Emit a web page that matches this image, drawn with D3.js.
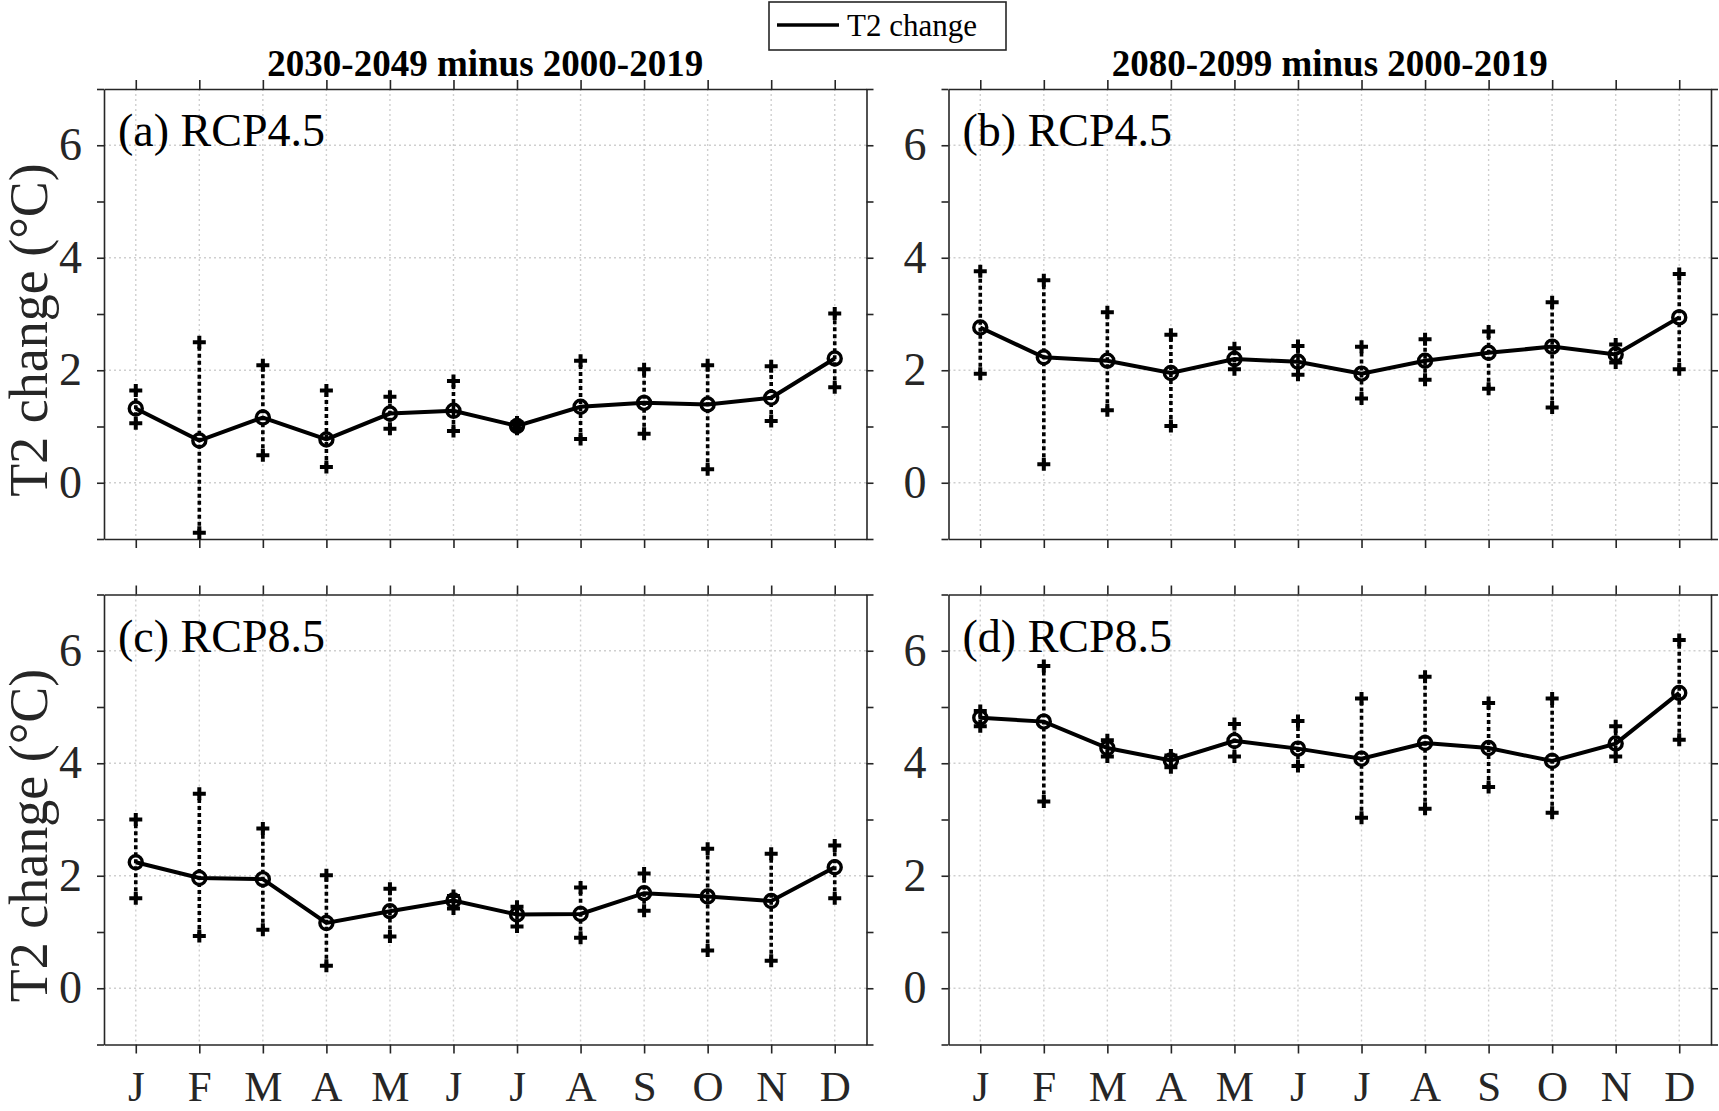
<!DOCTYPE html>
<html>
<head>
<meta charset="utf-8">
<script src="https://cdn.jsdelivr.net/npm/d3@7"></script>
<style>
  body { margin: 0; background: #fff; }
  svg { display: block; }
  svg, svg text { font-family: 'Liberation Serif', 'Times New Roman', serif; }
  .tick text { fill: #262626; }
  .domain, .tick line { stroke: #262626; stroke-width: 1.6; }
</style>
</head>
<body>
<svg width="1719" height="1111"></svg>
<script>
(function (d3) {
  'use strict';

  // month tick labels
  const monthLabels = ['J', 'F', 'M', 'A', 'M', 'J', 'J', 'A', 'S', 'O', 'N', 'D'];
  const months = d3.range(1, 13);

  // (a) RCP4.5, 2030-2049
  const meanA  = [1.32, 0.75, 1.16, 0.77, 1.23, 1.28, 1.01, 1.35, 1.42, 1.39, 1.51, 2.21];
  const upperA = [1.64, 2.50, 2.09, 1.64, 1.53, 1.81, 1.07, 2.17, 2.02, 2.09, 2.07, 3.01];
  const lowerA = [1.06, -0.89, 0.49, 0.28, 0.96, 0.92, 0.96, 0.78, 0.87, 0.24, 1.10, 1.70];

  // (b) RCP4.5, 2080-2099
  const meanB  = [2.76, 2.23, 2.17, 1.95, 2.20, 2.15, 1.94, 2.17, 2.31, 2.42, 2.28, 2.94];
  const upperB = [3.76, 3.60, 3.03, 2.63, 2.39, 2.43, 2.42, 2.55, 2.69, 3.21, 2.46, 3.71];
  const lowerB = [1.94, 0.33, 1.29, 1.01, 2.02, 1.92, 1.50, 1.83, 1.67, 1.34, 2.14, 2.02];

  // (c) RCP8.5, 2030-2049
  const meanC  = [2.24, 1.96, 1.94, 1.16, 1.37, 1.56, 1.31, 1.32, 1.69, 1.63, 1.55, 2.15];
  const upperC = [3.00, 3.46, 2.84, 2.01, 1.77, 1.64, 1.45, 1.79, 2.04, 2.48, 2.39, 2.54];
  const lowerC = [1.60, 0.93, 1.04, 0.40, 0.92, 1.42, 1.10, 0.90, 1.38, 0.67, 0.49, 1.60];

  // (d) RCP8.5, 2080-2099
  const meanD  = [4.81, 4.74, 4.27, 4.05, 4.40, 4.26, 4.08, 4.36, 4.27, 4.04, 4.35, 5.25];
  const upperD = [4.93, 5.73, 4.41, 4.14, 4.70, 4.75, 5.15, 5.54, 5.07, 5.15, 4.66, 6.19];
  const lowerD = [4.66, 3.32, 4.12, 3.93, 4.12, 3.95, 3.03, 3.19, 3.58, 3.12, 4.12, 4.42];

  const yTicks = d3.range(-1, 8);
  const yLabelTicks = [0, 2, 4, 6];
  const columnTitles = ['2030-2049 minus 2000-2019', '2080-2099 minus 2000-2019'];
  const yAxisLabel = 'T2 change (°C)';
  const legendLabel = 'T2 change';

  const svg = d3.select('svg');

  const panelWidth = 762.5;
  const panelHeight = 450;
  const colX = [104, 948.5];
  const rowY = [89, 594.5];

  const panel = (selection, props) => {
    const { label, mean, upper, lower, showMonths } = props;

    const xScale = d3.scaleLinear().domain([0.5, 12.5]).range([0, panelWidth]);
    const yScale = d3.scaleLinear().domain([-1, 7]).range([panelHeight, 0]);

    // dotted grid
    const grid = selection.append('g')
      .attr('stroke', '#cfcfcf')
      .attr('stroke-width', 1.4)
      .attr('stroke-dasharray', '2,3');
    grid.selectAll('.vgrid').data(months).enter().append('line')
        .attr('x1', d => xScale(d)).attr('x2', d => xScale(d))
        .attr('y1', 0).attr('y2', panelHeight);
    grid.selectAll('.hgrid').data(yLabelTicks).enter().append('line')
        .attr('x1', 0).attr('x2', panelWidth)
        .attr('y1', d => yScale(d)).attr('y2', d => yScale(d));

    // axes (ticks outward on all four sides)
    const fmtMonth = d => showMonths ? monthLabels[d - 1] : '';
    selection.append('g')
        .attr('transform', `translate(0,${panelHeight})`)
        .call(d3.axisBottom(xScale).tickValues(months).tickFormat(fmtMonth)
          .tickSize(9).tickSizeOuter(0).tickPadding(17))
        .attr('font-family', null)
        .attr('font-size', 43);
    selection.append('g')
        .call(d3.axisTop(xScale).tickValues(months).tickFormat('')
          .tickSize(9).tickSizeOuter(0));
    selection.append('g')
        .call(d3.axisLeft(yScale).tickValues(yTicks)
          .tickFormat(d => yLabelTicks.includes(d) ? d : '')
          .tickSize(7).tickSizeOuter(0).tickPadding(15))
        .attr('font-family', null)
        .attr('font-size', 46);
    selection.append('g')
        .attr('transform', `translate(${panelWidth},0)`)
        .call(d3.axisRight(yScale).tickValues(yTicks).tickFormat('')
          .tickSize(7).tickSizeOuter(0));

    const rows = months.map((m, i) => ({ m, mean: mean[i], upper: upper[i], lower: lower[i] }));

    // dotted spread bars
    selection.append('g').selectAll('line').data(rows).enter().append('line')
        .attr('x1', d => xScale(d.m)).attr('x2', d => xScale(d.m))
        .attr('y1', d => yScale(d.lower)).attr('y2', d => yScale(d.upper))
        .attr('stroke', '#000')
        .attr('stroke-width', 3.6)
        .attr('stroke-dasharray', '4,3');

    // plus markers at range ends
    const plusPath = 'M-6.5,0H6.5M0,-6.5V6.5';
    const ends = rows.flatMap(d => [{ m: d.m, v: d.upper }, { m: d.m, v: d.lower }]);
    selection.append('g').selectAll('path').data(ends).enter().append('path')
        .attr('d', plusPath)
        .attr('transform', d => `translate(${xScale(d.m)},${yScale(d.v)})`)
        .attr('stroke', '#000')
        .attr('stroke-width', 4)
        .attr('fill', 'none');

    // mean line
    const line = d3.line().x(d => xScale(d.m)).y(d => yScale(d.mean));
    selection.append('path')
        .datum(rows)
        .attr('d', line)
        .attr('fill', 'none')
        .attr('stroke', '#000')
        .attr('stroke-width', 4);

    selection.append('g').selectAll('circle').data(rows).enter().append('circle')
        .attr('cx', d => xScale(d.m))
        .attr('cy', d => yScale(d.mean))
        .attr('r', 6.5)
        .attr('fill', 'none')
        .attr('stroke', '#000')
        .attr('stroke-width', 3.4);

    selection.append('text')
        .attr('x', 14)
        .attr('y', 57)
        .attr('font-size', 46)
        .attr('fill', '#000')
        .text(label);
  };

  const panels = [
    { label: '(a) RCP4.5', mean: meanA, upper: upperA, lower: lowerA, col: 0, row: 0 },
    { label: '(b) RCP4.5', mean: meanB, upper: upperB, lower: lowerB, col: 1, row: 0 },
    { label: '(c) RCP8.5', mean: meanC, upper: upperC, lower: lowerC, col: 0, row: 1 },
    { label: '(d) RCP8.5', mean: meanD, upper: upperD, lower: lowerD, col: 1, row: 1 }
  ];

  panels.forEach(p => {
    svg.append('g')
        .attr('transform', `translate(${colX[p.col]},${rowY[p.row]})`)
        .call(panel, { ...p, showMonths: p.row === 1 });
  });

  // column titles
  svg.selectAll('.col-title').data(columnTitles).enter().append('text')
      .attr('class', 'col-title')
      .attr('x', (d, i) => colX[i] + panelWidth / 2)
      .attr('y', 76)
      .attr('text-anchor', 'middle')
      .attr('font-size', 37)
      .attr('font-weight', 'bold')
      .attr('fill', '#000')
      .text(d => d);

  // y axis labels
  rowY.forEach(y0 => {
    svg.append('text')
        .attr('transform', `translate(47,${y0 + panelHeight / 2 + 16}) rotate(-90)`)
        .attr('text-anchor', 'middle')
        .attr('font-size', 54)
        .attr('fill', '#262626')
        .text(yAxisLabel);
  });

  // legend
  const legend = svg.append('g');
  legend.append('rect')
      .attr('x', 769).attr('y', 2)
      .attr('width', 237).attr('height', 48)
      .attr('fill', '#fff')
      .attr('stroke', '#262626')
      .attr('stroke-width', 1.6);
  legend.append('line')
      .attr('x1', 777).attr('x2', 839)
      .attr('y1', 25).attr('y2', 25)
      .attr('stroke', '#000')
      .attr('stroke-width', 3.6);
  legend.append('text')
      .attr('x', 847).attr('y', 36)
      .attr('font-size', 31)
      .attr('fill', '#000')
      .text(legendLabel);

}(d3));
</script>
</body>
</html>
